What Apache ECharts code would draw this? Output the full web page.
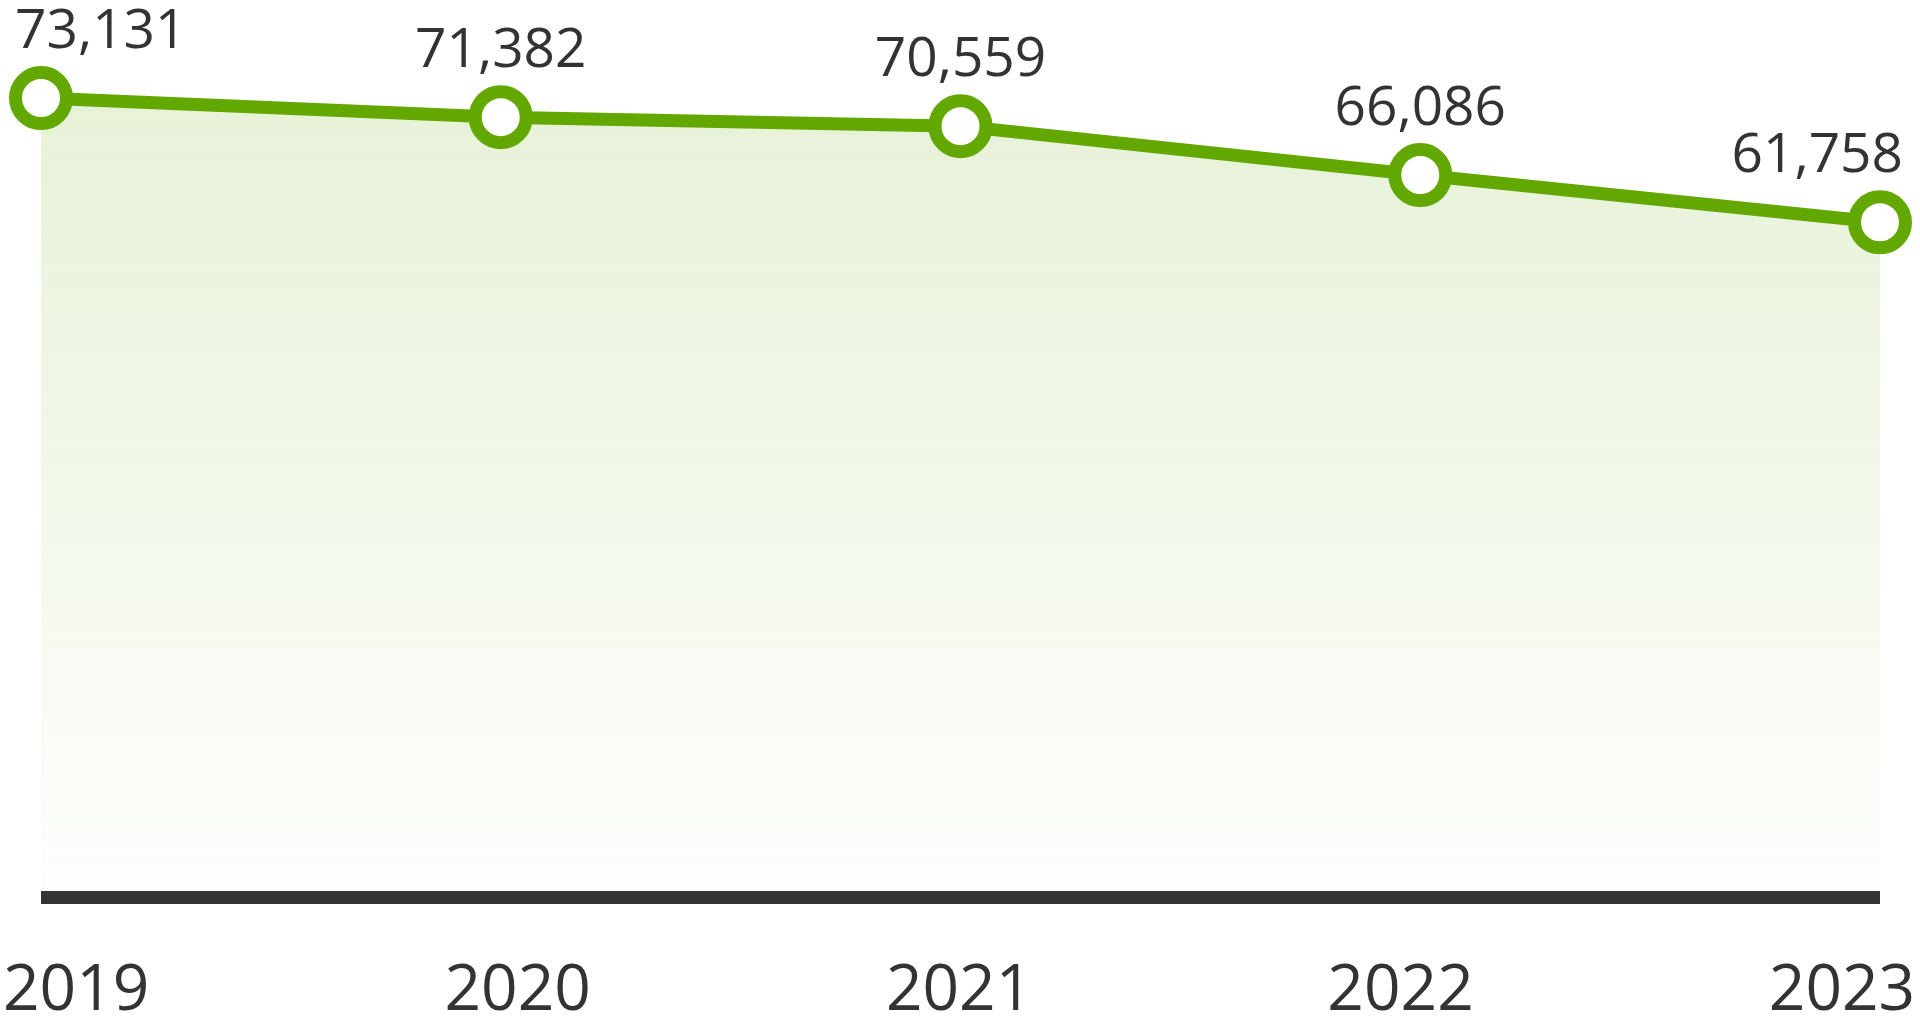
<!DOCTYPE html>
<html>
<head>
<meta charset="utf-8">
<script src="https://cdn.jsdelivr.net/npm/echarts@6/dist/echarts.min.js"></script>
<style>
  html, body { margin: 0; padding: 0; background: #fff; }
  #main { width: 1920px; height: 1024px; }
</style>
</head>
<body>
<div id="main"></div>
<script>
// 数据
const years = ['2019', '2020', '2021', '2022', '2023']
const values = [73131, 71382, 70559, 66086, 61758]

const green = '#62a800'
const textColor = '#333333'
const font = 'Open Sans'

// 首尾两个数值标签往里收一点
const lastIndex = values.length - 1
const seriesData = values.map((v, i) => {
  if (i === 0) return { value: v, label: { align: 'left', offset: [-26, 0] } }
  if (i === lastIndex) return { value: v, label: { align: 'right', offset: [23, 0] } }
  return v
})

const myChart = echarts.init(document.getElementById('main'))
myChart.setOption({
  animation: false,
  grid: [
    // 折线所在区域
    { left: 41, right: 40, top: 23, bottom: 127 },
    // 只用来放年份标签
    { left: 75, right: 78, top: 23, bottom: 127 }
  ],
  xAxis: [
    {
      type: 'category',
      gridIndex: 0,
      data: years,
      boundaryGap: false,
      axisLine: { lineStyle: { color: textColor, width: 13, cap: 'butt' } },
      axisTick: { show: false },
      axisLabel: { show: false },
      splitLine: { show: false }
    },
    {
      type: 'category',
      gridIndex: 1,
      data: years,
      boundaryGap: false,
      axisLine: { show: false },
      axisTick: { show: false },
      splitLine: { show: false },
      axisLabel: {
        color: textColor,
        fontFamily: font,
        fontSize: 64,
        margin: 77,
        showMinLabel: true,
        showMaxLabel: true,
        interval: 0
      }
    }
  ],
  yAxis: [
    { type: 'value', gridIndex: 0, min: 0, max: 80000, show: false },
    { type: 'value', gridIndex: 1, min: 0, max: 80000, show: false }
  ],
  series: [
    {
      type: 'line',
      xAxisIndex: 0,
      yAxisIndex: 0,
      data: seriesData,
      symbol: 'circle',
      symbolSize: 51,
      showAllSymbol: true,
      lineStyle: { color: green, width: 13 },
      itemStyle: { color: '#ffffff', borderColor: green, borderWidth: 13 },
      areaStyle: {
        color: new echarts.graphic.LinearGradient(0, 0, 0, 1, [
          { offset: 0, color: 'rgba(98, 168, 0, 0.22)' },
          { offset: 1, color: 'rgba(98, 168, 0, 0.01)' }
        ])
      },
      label: {
        show: true,
        position: 'top',
        distance: 6,
        color: textColor,
        fontFamily: font,
        fontSize: 55,
        formatter: p => p.value.toLocaleString('en-US')
      },
      z: 3
    }
  ]
})
</script>
</body>
</html>
